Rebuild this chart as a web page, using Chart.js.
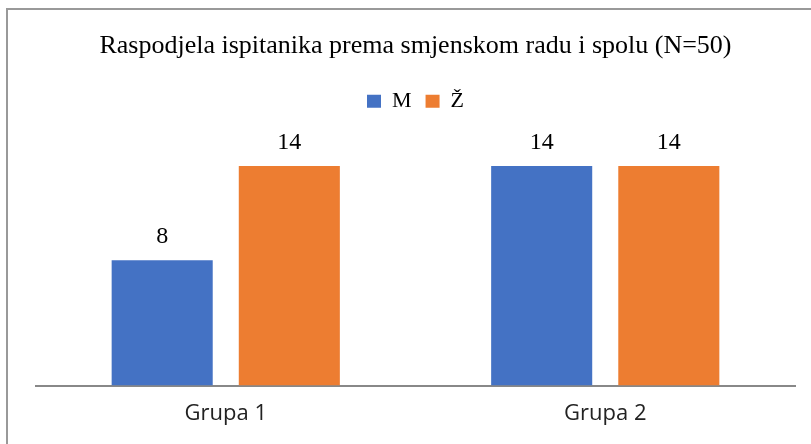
<!DOCTYPE html>
<html>
<head>
<meta charset="utf-8">
<script src="https://cdn.jsdelivr.net/npm/chart.js@4.4.1/dist/chart.umd.min.js"></script>
<style>
  html, body { margin: 0; padding: 0; background: #fff; overflow: hidden; }
  #wrap { position: relative; width: 811px; height: 444px; }
  #frame {
    position: absolute; left: 6px; top: 8px;
    width: 900px; height: 600px;
    border: 2px solid #999;
  }
  #chart { position: absolute; left: 0; top: 0; }
</style>
</head>
<body>
<div id="wrap">
  <div id="frame"></div>
  <canvas id="chart" width="811" height="444"></canvas>
</div>
<script>
// ── Data ─────────────────────────────────────────────────────
const categories = ['Grupa 1', 'Grupa 2'];
const seriesNames = ['M', 'Ž'];
const valuesM = [8, 14];
const valuesZ = [14, 14];
const seriesColors = ['#4472C4', '#ED7D31'];

const SERIF = '"Liberation Serif", "Times New Roman", serif';
const SANS  = '"Open Sans", "Noto Sans", sans-serif';

// Value labels above each bar
const barLabels = {
  id: 'barLabels',
  afterDatasetsDraw(chart) {
    const ctx = chart.ctx;
    ctx.save();
    ctx.font = '24px ' + SERIF;
    ctx.fillStyle = '#000';
    ctx.textAlign = 'center';
    ctx.textBaseline = 'alphabetic';
    chart.data.datasets.forEach((ds, i) => {
      chart.getDatasetMeta(i).data.forEach((bar, j) => {
        ctx.fillText(String(ds.data[j]), bar.x, bar.y - 17);
      });
    });
    ctx.restore();
  }
};

new Chart(document.getElementById('chart'), {
  type: 'bar',
  data: {
    labels: categories,
    datasets: [
      { label: seriesNames[0], data: valuesM, backgroundColor: seriesColors[0] },
      { label: seriesNames[1], data: valuesZ, backgroundColor: seriesColors[1] },
    ],
  },
  options: {
    responsive: false,
    animation: false,
    categoryPercentage: 0.67,
    barPercentage: 0.795,
    layout: { padding: { left: 36, right: 16, top: 20, bottom: 11 } },
    scales: {
      x: {
        grid: { display: false },
        border: { display: true, color: '#888', width: 2 },
        ticks: { color: '#222', font: { family: SANS, size: 22 }, padding: 6.5 },
      },
      y: {
        display: false,
        min: 0,
        max: 16.8,
      },
    },
    plugins: {
      title: {
        display: true,
        text: 'Raspodjela ispitanika prema smjenskom radu i spolu (N=50)',
        color: '#000',
        font: { family: SERIF, size: 26, weight: 'normal' },
        padding: { top: 11, bottom: 14 },
      },
      legend: {
        position: 'top',
        labels: {
          color: '#000',
          font: { family: SERIF, size: 22 },
          boxWidth: 14,
          boxHeight: 13,
          padding: 14,
        },
      },
      tooltip: { enabled: false },
    },
  },
  plugins: [barLabels],
});
</script>
</body>
</html>
